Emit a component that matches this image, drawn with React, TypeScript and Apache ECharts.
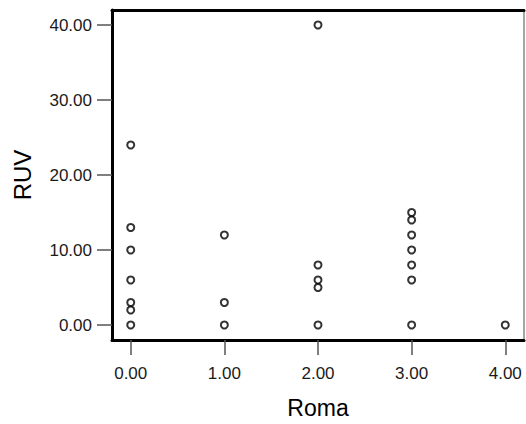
import React, { useEffect, useRef } from "react";
import * as echarts from "echarts";

const romaValues = [0, 0, 0, 0, 0, 0, 0, 1, 1, 1, 2, 2, 2, 2, 2, 3, 3, 3, 3, 3, 3, 3, 4];
const ruvValues = [24, 13, 10, 6, 3, 2, 0, 12, 3, 0, 40, 8, 6, 5, 0, 15, 14, 12, 10, 8, 6, 0, 0];
const xTicks = [0, 1, 2, 3, 4];
const yTicks = [0, 10, 20, 30, 40];
const xName = "Roma";
const yName = "RUV";

const FONT = "'Liberation Sans', Arial, sans-serif";

export default function App() {
  const ref = useRef<HTMLDivElement>(null);
  useEffect(() => {
    if (!ref.current) return;
    const chart = echarts.init(ref.current, null, { renderer: "svg" });
    const data = romaValues.map((x, i) => [x, ruvValues[i]]);
    const xMin = -0.2, xMax = 4.2, yMin = -2, yMax = 42;
    chart.setOption({
      animation: false,
      backgroundColor: "#fff",
      grid: { left: 112, top: 10, right: 2, bottom: 79.5, show: false },
      xAxis: [
        {
          type: "value",
          min: xMin,
          max: xMax,
          position: "bottom",
          name: xName,
          nameLocation: "middle",
          nameGap: 56,
          nameTextStyle: { fontFamily: FONT, fontSize: 23, color: "#000" },
          axisLine: { show: true, onZero: false, lineStyle: { color: "#000", width: 3 } },
          axisTick: { show: true, customValues: xTicks, length: 15, lineStyle: { color: "#555", width: 1.5 } },
          axisLabel: {
            customValues: xTicks,
            margin: 25,
            fontFamily: FONT,
            fontSize: 17,
            color: "#1a1a1a",
            formatter: (v: number) => v.toFixed(2),
          },
          splitLine: { show: false },
        },
        {
          type: "value",
          min: xMin,
          max: xMax,
          position: "top",
          axisLine: { show: true, onZero: false, lineStyle: { color: "#000", width: 3 } },
          axisTick: { show: false },
          axisLabel: { show: false },
          splitLine: { show: false },
        },
      ],
      yAxis: [
        {
          type: "value",
          min: yMin,
          max: yMax,
          position: "left",
          name: yName,
          nameLocation: "middle",
          nameGap: 78,
          nameTextStyle: { fontFamily: FONT, fontSize: 24, color: "#000" },
          axisLine: { show: true, onZero: false, lineStyle: { color: "#000", width: 3 } },
          axisTick: { show: true, customValues: yTicks, length: 15, lineStyle: { color: "#555", width: 1.5 } },
          axisLabel: {
            customValues: yTicks,
            margin: 20,
            fontFamily: FONT,
            fontSize: 17,
            color: "#1a1a1a",
            formatter: (v: number) => v.toFixed(2),
          },
          splitLine: { show: false },
        },
        {
          type: "value",
          min: yMin,
          max: yMax,
          position: "right",
          axisLine: { show: true, onZero: false, lineStyle: { color: "#888", width: 1.5 } },
          axisTick: { show: false },
          axisLabel: { show: false },
          splitLine: { show: false },
        },
      ],
      series: [
        {
          type: "scatter",
          xAxisIndex: 0,
          yAxisIndex: 0,
          data,
          symbol: "circle",
          symbolSize: 7,
          itemStyle: { color: "#fff", borderColor: "#000", borderWidth: 2 },
        },
      ],
    });
    return () => chart.dispose();
  }, []);
  return (
    <div
      ref={ref}
      style={{ position: "fixed", left: 0, top: 0, width: 526, height: 424 }}
    />
  );
}
